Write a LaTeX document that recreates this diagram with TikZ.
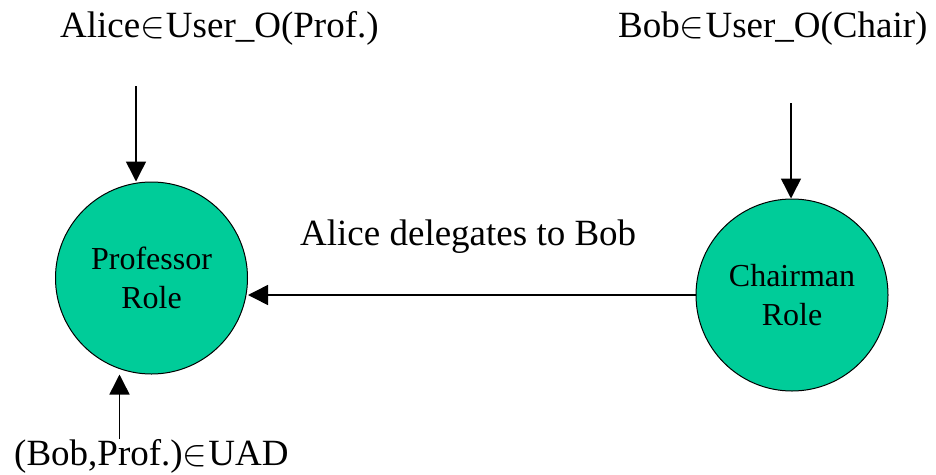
\RequirePackage{fix-cm}
\documentclass[tikz,border=0pt]{standalone}
\usepackage{fontspec}
\setmainfont{Liberation Serif}
\usetikzlibrary{arrows.meta}
\definecolor{rolegreen}{RGB}{0,204,153}
\newcommand{\elemof}{$\in$\kern1pt}
\tikzset{
  role/.style={circle, draw=black, line width=1pt, fill=rolegreen, minimum size=192pt, inner sep=0pt,
    align=center, font=\fontsize{32}{39}\selectfont},
  lbl/.style={anchor=base west, inner sep=0pt, font=\fontsize{37}{42}\selectfont},
  conn/.style={line width=1.5pt, -{Triangle[length=20pt,width=20pt]}}
}
\begin{document}
\begin{tikzpicture}[x=1pt,y=-1pt]
\useasboundingbox (0,0) rectangle (936,474);
\node[role] (prof) at (151.5,278) {Professor\\Role};
\node[role] (chair) at (792,295) {Chairman\\Role};
\node[lbl] (la) at (60,37) {Alice\elemof User\_O(Prof.)};
\node[lbl] (lb) at (618,37) {Bob\elemof User\_O(Chair)};
\node[lbl] (ld) at (300,245) {Alice delegates to Bob};
\node[lbl] (lu) at (14,465) {(Bob,Prof.)\elemof UAD};
\coordinate (s1) at (136,86);
\coordinate (s2) at (791,103);
\coordinate (s3) at (119.5,439);
\draw[conn] (s1) -- (s1 |- prof.north);
\draw[conn] (s2) -- (s2 |- chair.north);
\draw[conn] (s3) -- (s3 |- prof.south);
\draw[conn] (chair.west) -- (prof.east |- chair.west);
\end{tikzpicture}
\end{document}
